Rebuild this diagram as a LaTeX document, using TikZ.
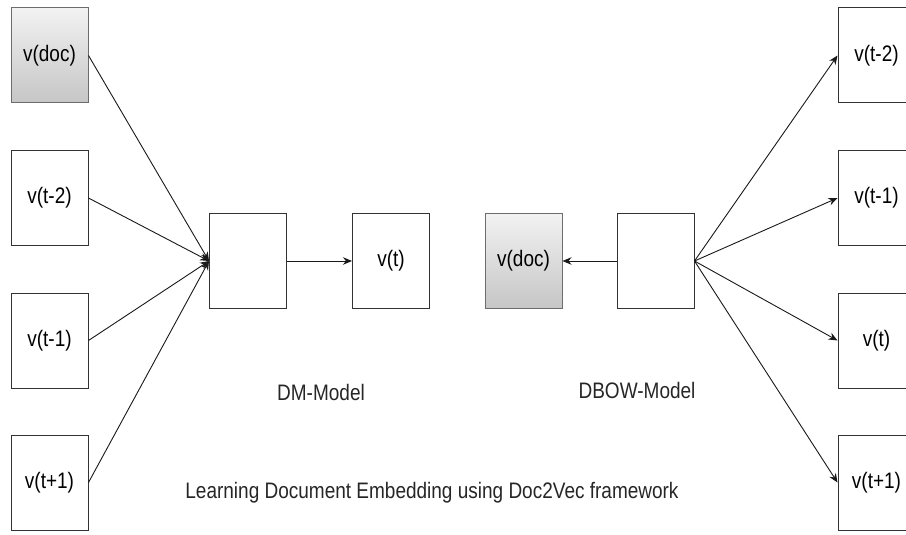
\documentclass[tikz,border=0pt]{standalone}
\usepackage{fontspec}
\setmainfont{Liberation Sans}
\usetikzlibrary{arrows.meta}

% tall lettering
\newcommand{\tallname}[1]{\scalebox{1}[1.18]{#1}}

\tikzset{
  unit/.style={draw=black!80, line width=1pt, fill=white, minimum width=77pt,
    minimum height=95pt, inner sep=0pt, font=\fontsize{19}{22}\selectfont},
  docunit/.style={unit, draw=gray!85!black, top color=gray!10, bottom color=gray!45},
  link/.style={draw=black!90, line width=0.9pt, -{Stealth[length=9pt,width=7.5pt]}},
  caption/.style={font=\fontsize{19}{22}\selectfont, text=black!85},
}

\begin{document}
\begin{tikzpicture}[x=1pt,y=-1pt]
\useasboundingbox (0,0) rectangle (906,535);
\clip (0,0) rectangle (906,535);

% DM model: context vectors feed the hidden unit
\node[docunit] (dmdoc) at (49.5,55.5) {\tallname{v(doc)}};
\node[unit] (dmtm2) at (49.5,198) {\tallname{v(t-2)}};
\node[unit] (dmtm1) at (49.5,340.5) {\tallname{v(t-1)}};
\node[unit] (dmtp1) at (49.5,482.5) {\tallname{v(t+1)}};
\node[unit] (dmhid) at (248,261) {};
\node[unit] (dmout) at (391,261) {\tallname{v(t)}};

\foreach \src in {dmdoc,dmtm2,dmtm1,dmtp1}
  \draw[link] (\src.east) -- (dmhid.west);
\draw[link] (dmhid.east) -- (dmout.west);

% DBOW model: hidden unit predicts doc and words
\node[docunit] (bwdoc) at (523.5,261) {\tallname{v(doc)}};
\node[unit] (bwhid) at (655.5,261) {};
\node[unit] (bwtm2) at (876.5,55.5) {\tallname{v(t-2)}};
\node[unit] (bwtm1) at (876.5,198) {\tallname{v(t-1)}};
\node[unit] (bwt) at (876.5,340.5) {\tallname{v(t)}};
\node[unit] (bwtp1) at (876.5,482.5) {\tallname{v(t+1)}};

\draw[link] (bwhid.west) -- (bwdoc.east);
\foreach \dst in {bwtm2,bwtm1,bwt,bwtp1}
  \draw[link] (bwhid.east) -- (\dst.west);

% labels
\node[caption] (dmlabel) at (321,392) {\tallname{DM-Model}};
\node[caption] (bwlabel) at (637,390) {\tallname{DBOW-Model}};
\node[caption] (title) at (432,493) {\tallname{Learning Document Embedding using Doc2Vec framework}};
\end{tikzpicture}
\end{document}
